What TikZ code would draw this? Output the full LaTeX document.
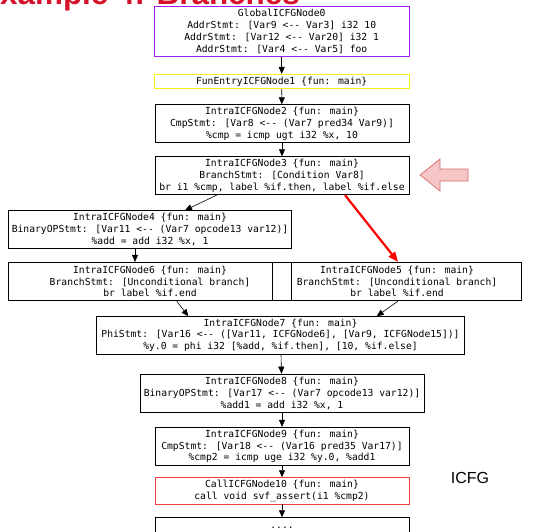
\documentclass[tikz,border=0pt]{standalone}
\usepackage{fontspec}
\setsansfont{Liberation Sans}
\newfontfamily\icfgfont[Ligatures=TeXOff]{DejaVu Sans Mono}
\usetikzlibrary{calc,arrows.meta}
\definecolor{titlered}{RGB}{214,18,42}
\definecolor{globalpurple}{RGB}{160,32,240}
\definecolor{entryyellow}{RGB}{248,240,20}
\definecolor{callred}{RGB}{240,60,60}
\definecolor{hintpink}{RGB}{246,198,198}
\definecolor{hintborder}{RGB}{214,104,104}

\begin{document}
\begin{tikzpicture}[x=1pt,y=-1pt,
	icfg/.style={draw,line width=0.8pt,align=center,inner sep=0pt,font=\icfgfont\fontsize{9.7}{11.8}\selectfont},
	flow/.style={-{Triangle[length=7pt,width=6pt]},line width=0.6pt}]
	\useasboundingbox (0,0) rectangle (535,531);
	\node[anchor=base east,text=titlered,inner sep=0pt,font=\sffamily\bfseries\fontsize{31.4}{34}\selectfont] (title) at (300,4) {Example 4: Branches};
	
	\node[icfg,draw=globalpurple,minimum width=254.7pt,minimum height=50.7pt] (n0) at (281.7,31.3) {GlobalICFGNode0\\AddrStmt: [Var9 <-- Var3] i32 10\\AddrStmt: [Var12 <-- Var20] i32 1\\AddrStmt: [Var4 <-- Var5] foo};
	\node[icfg,draw=entryyellow,minimum width=254.7pt,minimum height=14.4pt] (n1) at (281.7,81.5) {FunEntryICFGNode1 \{fun: main\}};
	\node[icfg,minimum width=254pt,minimum height=38pt] (n2) at (282,123.7) {IntraICFGNode2 \{fun: main\}\\CmpStmt: [Var8 <-- (Var7 pred34 Var9)]\\\%cmp = icmp ugt i32 \%x, 10};
	\node[icfg,minimum width=254pt,minimum height=38pt] (n3) at (282,175.7) {IntraICFGNode3 \{fun: main\}\\BranchStmt: [Condition Var8]\\br i1 \%cmp, label \%if.then, label \%if.else};
	\node[icfg,minimum width=283.4pt,minimum height=38pt] (n4) at (150,229.7) {IntraICFGNode4 \{fun: main\}\\BinaryOPStmt: [Var11 <-- (Var7 opcode13 var12)]\\\%add = add i32 \%x, 1};
	\node[icfg,minimum width=283.4pt,minimum height=38.4pt] (n6) at (150,281.5) {IntraICFGNode6 \{fun: main\}\\BranchStmt: [Unconditional branch]\\br label \%if.end};
	\node[icfg,minimum width=249.4pt,minimum height=38.4pt] (n5) at (397,281.5) {IntraICFGNode5 \{fun: main\}\\BranchStmt: [Unconditional branch]\\br label \%if.end};
	\node[icfg,minimum width=367.6pt,minimum height=37.3pt] (n7) at (280.5,335.3) {IntraICFGNode7 \{fun: main\}\\PhiStmt: [Var16 <-- ([Var11, ICFGNode6], [Var9, ICFGNode15])]\\\%y.0 = phi i32 [\%add, \%if.then], [10, \%if.else]};
	\node[icfg,minimum width=284pt,minimum height=38.3pt] (n8) at (282,393.2) {IntraICFGNode8 \{fun: main\}\\BinaryOPStmt: [Var17 <-- (Var7 opcode13 var12)]\\\%add1 = add i32 \%x, 1};
	\node[icfg,minimum width=254pt,minimum height=38.4pt] (n9) at (282,446.5) {IntraICFGNode9 \{fun: main\}\\CmpStmt: [Var18 <-- (Var16 pred35 Var17)]\\\%cmp2 = icmp uge i32 \%y.0, \%add1};
	\node[icfg,draw=callred,minimum width=254pt,minimum height=26.3pt] (n10) at (282,490.8) {CallICFGNode10 \{fun: main\}\\call void svf\_assert(i1 \%cmp2)};
	\node[icfg,anchor=north,minimum width=254pt,minimum height=20pt] (n11) at (282,517.3) {....};
	
	\draw[flow] (n0) -- (n1);
	\draw[flow] (n1) -- (n2);
	\draw[flow] (n2) -- (n3);
	\draw[flow] ($(n3.south)+(-65.3,0)$) -- ($(n4.north)+(35,0)$);
	\draw[red,line width=2.2pt,-{Triangle[length=10pt,width=8pt]}] ($(n3.south)+(63,0)$) -- ($(n5.north)+(1,0)$);
	\draw[flow] ($(n4.south)+(-15,0)$) -- ($(n6.north)+(-15,0)$);
	\draw[flow] ($(n6.south)+(26.7,0)$) -- ($(n7.north)+(-92.2,0)$);
	\draw[flow] ($(n5.south)+(1,0)$) -- ($(n7.north)+(96.2,0)$);
	\draw[flow] (n7) -- (n8);
	\draw[flow] (n8) -- (n9);
	\draw[flow] (n9) -- (n10);
	\draw[flow] (n10) -- (n11);
	
	\draw[fill=hintpink,draw=hintborder,line width=0.7pt] (420,175) -- (440,159) -- (440,169) -- (468,169) -- (468,181) -- (440,181) -- (440,191) -- cycle;
	\node[font=\sffamily\fontsize{16}{18}\selectfont] (icfglabel) at (470,477.5) {ICFG};
\end{tikzpicture}
\end{document}
